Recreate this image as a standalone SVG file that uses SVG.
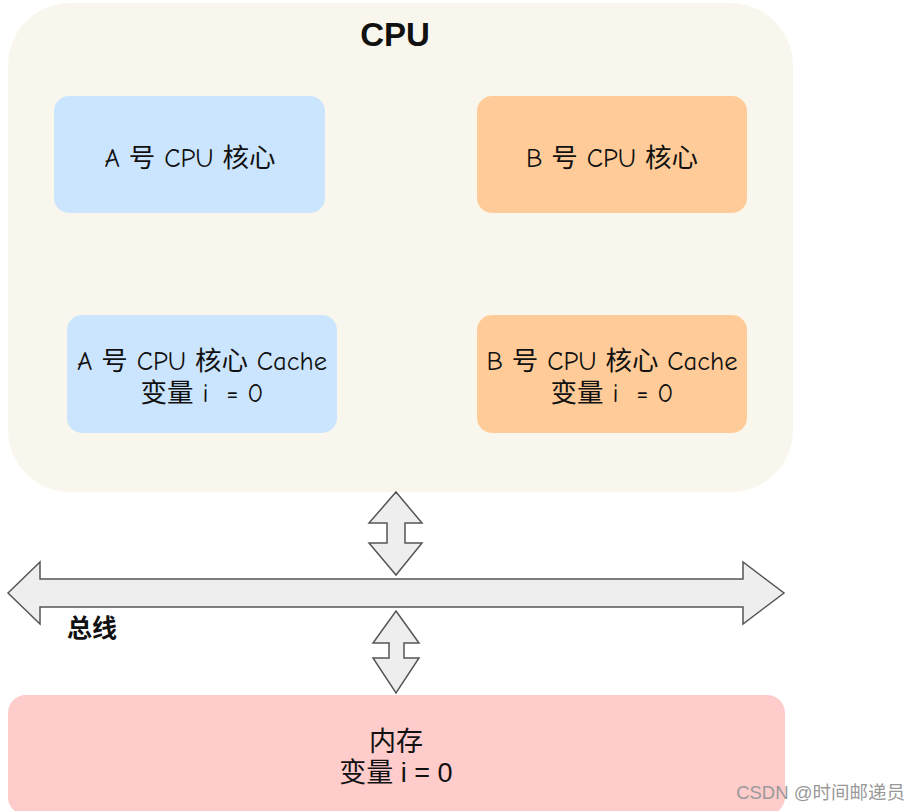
<svg xmlns="http://www.w3.org/2000/svg" width="920" height="811" viewBox="0 0 920 811">
<style>
.core{font-family:"Comic Neue","Noto Sans","Noto Sans CJK SC",sans-serif;font-size:26.5px;fill:#111;text-anchor:middle;white-space:pre}
.arrow{fill:#eeeeee;stroke:#555;stroke-width:1.5;stroke-linejoin:miter}
.mem{font-family:"Liberation Sans","Noto Sans CJK SC",sans-serif;font-size:27px;fill:#111;text-anchor:middle}
</style>
<rect width="920" height="811" fill="#ffffff"/>
<g id="cpu">
<rect x="8" y="3" width="785" height="489" rx="62" fill="#f9f7ed"/>
<text x="395" y="46" font-family="Liberation Sans,Arial,sans-serif" font-size="33" font-weight="bold" text-anchor="middle" fill="#111">CPU</text>
</g>
<g id="coreA">
<rect x="54" y="96" width="271" height="117" rx="15" fill="#cce5ff"/>
<text class="core" x="190" y="167">A 号 CPU 核心</text>
</g>
<g id="coreB">
<rect x="477" y="96" width="270" height="117" rx="15" fill="#ffcc99"/>
<text class="core" x="612" y="167">B 号 CPU 核心</text>
</g>
<g id="cacheA">
<rect x="67" y="315" width="270" height="118" rx="15" fill="#cce5ff"/>
<text class="core" x="202" y="370">A 号 CPU 核心 Cache</text>
<text class="core" x="202" y="402" xml:space="preserve">变量 i  = 0</text>
</g>
<g id="cacheB">
<rect x="477" y="315" width="270" height="118" rx="15" fill="#ffcc99"/>
<text class="core" x="612" y="370">B 号 CPU 核心 Cache</text>
<text class="core" x="612" y="402" xml:space="preserve">变量 i  = 0</text>
</g>
<g id="memory">
<rect x="8" y="695" width="777" height="120" rx="18" fill="#ffcccc"/>
<text class="mem" x="396" y="751">内存</text>
<text class="mem" x="396" y="782">变量 i = 0</text>
</g>
<g id="connectors">
<path class="arrow" d="M396,492 L422,523 L405,523 L405,543 L422,543 L396,575 L369,543 L387,543 L387,523 L369,523 Z"/>
<path class="arrow" d="M8,593 L40,562 L40,579 L743,579 L743,562 L784,593 L743,624 L743,607 L40,607 L40,624 Z"/>
<path class="arrow" d="M396,611 L419,643 L404,643 L404,658 L419,658 L396,693 L373,658 L389,658 L389,643 L373,643 Z"/>
</g>
<g id="bus-label">
<text x="67" y="637" font-family="Liberation Sans,Noto Sans CJK SC,sans-serif" font-size="25" font-weight="bold" fill="#111">总线</text>
</g>
<text x="905" y="799" font-family="Liberation Sans,Noto Sans CJK SC,sans-serif" font-size="18.5" fill="#999" text-anchor="end">CSDN @时间邮递员</text>
</svg>
